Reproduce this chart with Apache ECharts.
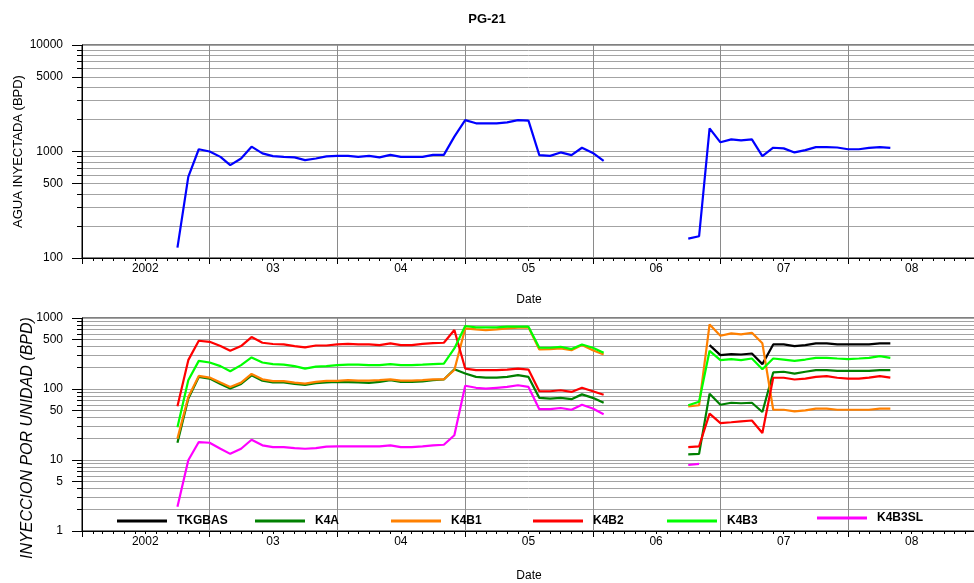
<!DOCTYPE html>
<html>
<head>
<meta charset="utf-8">
<script src="https://cdn.jsdelivr.net/npm/echarts@6/dist/echarts.min.js"></script>
<style>
  html, body { margin: 0; padding: 0; background: #fff; }
  #chart { width: 974px; height: 583px; }
</style>
</head>
<body>
<div id="chart"></div>
<script>
// Well PG-21: monthly water injection, Oct 2002 - May 2008 (shut in Mar-Sep 2006)
const firstMonth = [2002, 9];   // year, zero-based month of the first reading
const monthCount = 68;

const agua = [125, 578, 1050, 1000, 890, 745, 860, 1110, 960, 905,
  890, 880, 830, 860, 900, 910, 910, 890, 910, 880,
  930, 890, 890, 890, 930, 930, 1380, 1970, 1840, 1840,
  1840, 1880, 1970, 1950, 925, 910, 980, 925, 1085, 970,
  818, null, null, null, null, null, null, null,
  152, 160, 1650, 1220, 1300, 1270, 1300, 906, 1085, 1070,
  980, 1030, 1100, 1100, 1090, 1050, 1050, 1080, 1100, 1080];

const tkgbas = [null, null, null, null, null, null, null, null, null, null,
  null, null, null, null, null, null, null, null, null, null,
  null, null, null, null, null, null, null, null, null, null,
  null, null, null, null, null, null, null, null, null, null,
  null, null, null, null, null, null, null, null,
  null, null, 415, 300, 310, 306, 316, 224, 424, 424,
  402, 415, 438, 438, 424, 424, 424, 424, 438, 438];

const k4a = [17.5, 73, 148, 140, 118, 102, 118, 156, 131, 124,
  124, 118, 114, 121, 124, 126, 125, 124, 122, 126,
  133, 126, 126, 128, 133, 136, 190, 165, 148, 145,
  145, 148, 157, 148, 75, 73, 75, 72, 84, 75,
  64, null, null, null, null, null, null, null,
  12, 12.2, 86, 60, 64, 63, 64, 47.5, 171, 175,
  165, 175, 184, 184, 180, 180, 180, 180, 184, 184];

const k4b1 = [20, 77, 153, 145, 123, 107, 123, 163, 137, 129,
  129, 123, 119, 126, 130, 130, 133, 131, 131, 133,
  137, 131, 131, 133, 137, 137, 185, 713, 690, 676,
  690, 713, 730, 738, 360, 365, 372, 352, 415, 352,
  306, null, null, null, null, null, null, null,
  57, 59, 813, 562, 606, 587, 620, 440, 51, 51,
  48.5, 50, 53, 53, 51, 51, 51, 51, 53, 53];

const k4b2 = [57, 255, 478, 462, 402, 345, 402, 539, 448, 430,
  424, 402, 385, 410, 410, 424, 433, 424, 424, 415,
  438, 415, 415, 433, 443, 448, 676, 194, 184, 184,
  184, 188, 194, 188, 93, 93, 96, 91, 104, 93,
  83, null, null, null, null, null, null, null,
  15.2, 15.6, 45, 33, 34, 35, 36, 24, 144, 144,
  136, 140, 148, 152, 144, 140, 140, 145, 152, 145];

const k4b3 = [29, 133, 249, 236, 210, 178, 217, 278, 236, 224,
  221, 210, 194, 207, 210, 217, 221, 221, 217, 217,
  224, 217, 217, 220, 224, 228, 372, 771, 738, 738,
  738, 754, 754, 754, 381, 381, 393, 365, 424, 381,
  324, null, null, null, null, null, null, null,
  59, 66, 345, 255, 264, 255, 269, 190, 269, 260,
  249, 260, 275, 275, 269, 264, 269, 275, 290, 275];

const k4b3sl = [2.2, 9.9, 17.9, 17.5, 14.4, 12.2, 14.4, 19.3, 16.1, 15.2,
  15.2, 14.7, 14.4, 14.7, 15.4, 15.6, 15.6, 15.6, 15.6, 15.6,
  16.1, 15.2, 15.2, 15.6, 16.1, 16.4, 22.3, 111, 104, 101,
  104, 107, 113, 107, 52, 52, 54, 51, 60, 53,
  44, null, null, null, null, null, null, null,
  8.5, 8.8, null, null, null, null, null, null, null, null,
  null, null, null, null, null, null, null, null, null, null];

// Axis ticks and labels
const yearLabels = ['2002', '03', '04', '05', '06', '07', '08'];
const topGridValues = [100, 200, 300, 400, 500, 600, 700, 800, 900,
  1000, 2000, 3000, 4000, 5000, 6000, 7000, 8000, 9000, 10000];
const topLabelValues = [100, 500, 1000, 5000, 10000];
const botGridValues = [1, 2, 3, 4, 5, 6, 7, 8, 9,
  10, 20, 30, 40, 50, 60, 70, 80, 90,
  100, 200, 300, 400, 500, 600, 700, 800, 900, 1000];
const botLabelValues = [1, 5, 10, 50, 100, 500, 1000];

const FONT = "'Liberation Sans', Arial, Helvetica, sans-serif";
const ts = (y, m) => new Date(y, m, 1).getTime();

const months = [];
for (let i = 0; i < monthCount; i++) months.push(ts(firstMonth[0], firstMonth[1] + i));
const xMin = ts(2002, 0), xMax = ts(2009, 0);
const monthTicks = [];
for (let i = 0; i <= 84; i++) monthTicks.push(ts(2002, i));
const yearTicks = [];
for (let y = 2002; y <= 2009; y++) yearTicks.push(ts(y, 0));
const labelTicks = yearLabels.map((_, i) => ts(2002 + i, 6));

const pairs = vals => months.map((t, i) => [t, vals[i]]);

// Dates are plotted on a linear axis of timestamps
function xAxesFor(g, nameGap) {
  return [
    {
      type: 'value', gridIndex: g, min: xMin, max: xMax, position: 'bottom',
      axisLine: { show: true, onZero: false, lineStyle: { color: '#000', width: 1 } },
      axisTick: { show: true, customValues: monthTicks, length: 3, lineStyle: { color: '#000' } },
      axisLabel: {
        show: true, customValues: labelTicks, margin: 5,
        formatter: v => yearLabels[new Date(v).getFullYear() - 2002],
        color: '#000', fontSize: 12, fontFamily: FONT
      },
      splitLine: { show: false },
      name: 'Date', nameLocation: 'middle', nameGap: nameGap, nameMoveOverlap: false,
      nameTextStyle: { color: '#000', fontSize: 12, fontFamily: FONT }
    },
    {
      type: 'value', gridIndex: g, min: xMin, max: xMax, position: 'bottom',
      axisLine: { show: false, onZero: false },
      axisTick: { show: true, customValues: yearTicks, length: 6, lineStyle: { color: '#000' } },
      axisLabel: { show: false },
      splitLine: { show: true, lineStyle: { color: '#8a8a8a', width: 1 } }
    }
  ];
}

function yAxesFor(g, min, max, gridVals, labelVals, name, nameGap, nameStyle) {
  return [
    {
      type: 'log', logBase: 10, gridIndex: g, min: min, max: max, position: 'left',
      axisLine: { show: true, onZero: false, lineStyle: { color: '#000' } },
      axisTick: { show: true, customValues: gridVals, length: 5, lineStyle: { color: '#000' } },
      axisLabel: { show: false },
      splitLine: { show: true, lineStyle: { color: '#a3a3a3', width: 1 } }
    },
    {
      type: 'log', logBase: 10, gridIndex: g, min: min, max: max, position: 'left',
      axisLine: { show: false, onZero: false },
      axisTick: { show: true, customValues: labelVals, length: 10, lineStyle: { color: '#000' } },
      axisLabel: {
        show: true, customValues: labelVals, margin: 19,
        formatter: v => String(Math.round(v)),
        color: '#000', fontSize: 12, fontFamily: FONT
      },
      splitLine: { show: false },
      name: name, nameLocation: 'middle', nameGap: nameGap, nameMoveOverlap: false,
      nameTextStyle: Object.assign({ color: '#000', fontFamily: FONT }, nameStyle)
    }
  ];
}

function lineSeries(name, vals, color, xi, yi) {
  return {
    type: 'line', name: name, data: pairs(vals),
    xAxisIndex: xi, yAxisIndex: yi,
    symbol: 'none', showSymbol: false, connectNulls: false,
    lineStyle: { color: color, width: 2.2 },
    itemStyle: { color: color },
    emphasis: { disabled: true }
  };
}

const units = [
  { name: 'TKGBAS', vals: tkgbas, color: '#000000', left: 117, top: 515 },
  { name: 'K4A', vals: k4a, color: '#008000', left: 255, top: 515 },
  { name: 'K4B1', vals: k4b1, color: '#ff8000', left: 391, top: 515 },
  { name: 'K4B2', vals: k4b2, color: '#ff0000', left: 533, top: 515 },
  { name: 'K4B3', vals: k4b3, color: '#00ff00', left: 667, top: 515 },
  { name: 'K4B3SL', vals: k4b3sl, color: '#ff00ff', left: 817, top: 512 }
];

const chart = echarts.init(document.getElementById('chart'), null, { renderer: 'canvas' });

chart.setOption({
  animation: false,
  backgroundColor: '#ffffff',
  title: {
    text: 'PG-21', left: 'center', top: 8,
    textStyle: { fontSize: 13, fontWeight: 'bold', color: '#000', fontFamily: FONT }
  },
  grid: [
    { left: 82, top: 45, width: 894, height: 213, show: true, borderColor: '#000', borderWidth: 1,
      backgroundColor: 'transparent', containLabel: false, outerBoundsMode: 'none' },
    { left: 82, top: 318, width: 894, height: 213, show: true, borderColor: '#000', borderWidth: 1,
      backgroundColor: 'transparent', containLabel: false, outerBoundsMode: 'none' }
  ],
  xAxis: [].concat(xAxesFor(0, 36), xAxesFor(1, 39)),
  yAxis: [].concat(
    yAxesFor(0, 100, 10000, topGridValues, topLabelValues, 'AGUA INYECTADA (BPD)', 57,
      { fontSize: 13 }),
    yAxesFor(1, 1, 1000, botGridValues, botLabelValues, 'INYECCION POR UNIDAD (BPD)', 46,
      { fontSize: 16, fontStyle: 'italic', padding: [0, 27, 0, 0] })
  ),
  legend: units.map(u => ({
    data: [u.name], left: u.left, top: u.top, padding: 0,
    icon: 'rect', itemWidth: 50, itemHeight: 3, selectedMode: false,
    textStyle: { color: '#000', fontSize: 12, fontWeight: 'bold', fontFamily: FONT, padding: [0, 0, 0, 5] }
  })),
  series: [lineSeries('AGUA', agua, '#0000ff', 0, 0)].concat(
    units.map(u => lineSeries(u.name, u.vals, u.color, 2, 2))
  )
});
</script>
</body>
</html>
